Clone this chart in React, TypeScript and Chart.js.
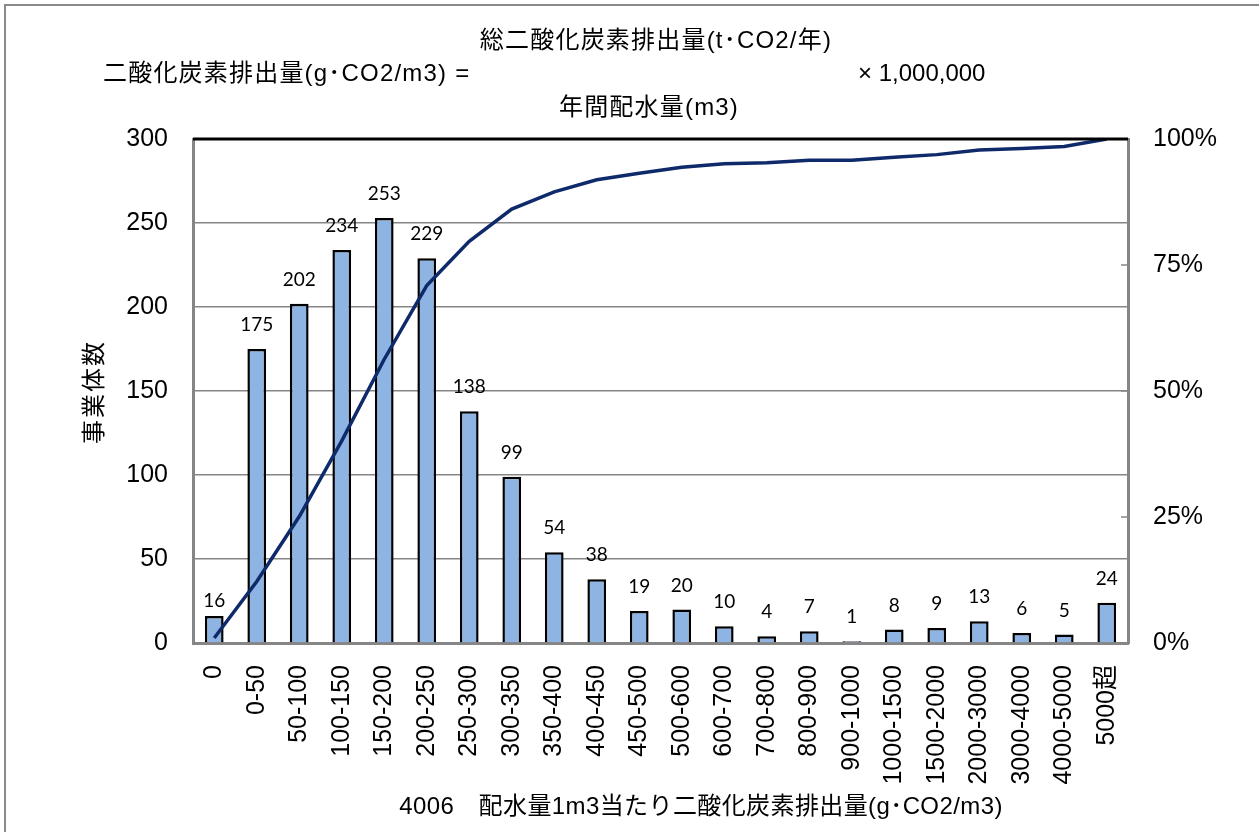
import React, { useEffect, useRef } from "react";
import { Chart, registerables } from "chart.js";
Chart.register(...registerables);

const categories = [
  "0", "0-50", "50-100", "100-150", "150-200", "200-250", "250-300", "300-350",
  "350-400", "400-450", "450-500", "500-600", "600-700", "700-800", "800-900",
  "900-1000", "1000-1500", "1500-2000", "2000-3000", "3000-4000", "4000-5000", "5000超",
];
const counts = [16, 175, 202, 234, 253, 229, 138, 99, 54, 38, 19, 20, 10, 4, 7, 1, 8, 9, 13, 6, 5, 24];
const cumulativePct = [
  1.0, 12.2, 25.1, 40.1, 56.3, 70.9, 79.7, 86.1, 89.5, 91.9, 93.2, 94.4, 95.1, 95.3,
  95.8, 95.8, 96.4, 96.9, 97.8, 98.1, 98.5, 100,
];
const leftAxis = { min: 0, max: 300, step: 50 };
const rightAxis = { min: 0, max: 100, step: 25 };

const titleTop = "総二酸化炭素排出量(t･CO2/年)";
const titleLeft = "二酸化炭素排出量(g･CO2/m3) =";
const titleFactor = "× 1,000,000";
const titleBottom = "年間配水量(m3)";
const yTitle = "事業体数";
const xTitle = "4006　配水量1m3当たり二酸化炭素排出量(g･CO2/m3)";

const FONT = "'Liberation Sans', 'Noto Sans CJK JP', sans-serif";
const GRID = "#868686";

const extras = {
  id: "extras",
  afterDatasetsDraw(chart: any) {
    const ctx = chart.ctx;
    const meta = chart.getDatasetMeta(1);
    ctx.save();
    ctx.font = "19px Lato, 'Open Sans', sans-serif";
    ctx.fillStyle = "#000";
    ctx.textAlign = "center";
    ctx.textBaseline = "middle";
    meta.data.forEach((el: any, i: number) => {
      const off = i === 0 ? 15 : 24;
      ctx.fillText(String(counts[i]), el.x, el.y - off);
    });
    ctx.restore();
  },
  afterDraw(chart: any) {
    const ctx = chart.ctx;
    const area = chart.chartArea;
    const y1 = chart.scales.y1;
    ctx.save();
    ctx.strokeStyle = GRID;
    ctx.lineWidth = 1.5;
    for (let v = rightAxis.min; v <= rightAxis.max; v += rightAxis.step) {
      const py = y1.getPixelForValue(v);
      ctx.beginPath();
      ctx.moveTo(area.right - 7, py);
      ctx.lineTo(area.right, py);
      ctx.stroke();
    }
    ctx.strokeStyle = "#000";
    ctx.lineWidth = 3;
    ctx.beginPath();
    ctx.moveTo(area.left, area.top);
    ctx.lineTo(area.right, area.top);
    ctx.stroke();
    ctx.restore();
  },
};

export default function App() {
  const ref = useRef<HTMLCanvasElement>(null);
  useEffect(() => {
    const chart = new Chart(ref.current as HTMLCanvasElement, {
      type: "bar",
      data: {
        labels: categories,
        datasets: [
          {
            type: "line",
            data: cumulativePct,
            yAxisID: "y1",
            borderColor: "#0E2A6B",
            borderWidth: 3.5,
            pointRadius: 0,
            tension: 0,
            order: 0,
          } as any,
          {
            type: "bar",
            data: counts,
            yAxisID: "y",
            backgroundColor: "#8DB4E2",
            borderColor: "#000",
            borderWidth: 2.5,
            barPercentage: 0.44,
            categoryPercentage: 1,
            order: 1,
          } as any,
        ],
      },
      options: {
        animation: false,
        responsive: false,
        maintainAspectRatio: false,
        layout: { padding: { top: 139, left: 0, right: 0, bottom: 0 } },
        plugins: { legend: { display: false }, tooltip: { enabled: false }, title: { display: false } },
        scales: {
          x: {
            offset: true,
            grid: { display: false, drawTicks: false },
            border: { display: true, color: GRID, width: 3 },
            ticks: {
              font: { family: FONT, size: 25 },
              color: "#000",
              minRotation: 90,
              maxRotation: 90,
              autoSkip: false,
              padding: 22,
            },
            afterFit(scale: any) {
              scale.height = 189;
            },
          },
          y: {
            position: "left",
            min: leftAxis.min,
            max: leftAxis.max,
            ticks: {
              stepSize: leftAxis.step,
              font: { family: FONT, size: 25 },
              color: "#000",
              padding: 25,
            },
            grid: { color: GRID, lineWidth: 1.5, drawTicks: false },
            border: { display: true, color: GRID, width: 3 },
            afterFit(scale: any) {
              scale.width = 193;
            },
          },
          y1: {
            position: "right",
            min: rightAxis.min,
            max: rightAxis.max,
            ticks: {
              stepSize: rightAxis.step,
              font: { family: FONT, size: 25 },
              color: "#000",
              padding: 25,
              callback: (v: any) => v + "%",
            },
            grid: { drawOnChartArea: false, drawTicks: false },
            border: { display: true, color: GRID, width: 3 },
            afterFit(scale: any) {
              scale.width = 131;
            },
          },
        },
      },
      plugins: [extras],
    });
    return () => chart.destroy();
  }, []);

  const txt: React.CSSProperties = {
    position: "absolute",
    fontFamily: FONT,
    fontSize: 24,
    lineHeight: "24px",
    color: "#000",
    whiteSpace: "nowrap",
    letterSpacing: "1.2px",
  };

  return (
    <div style={{ position: "fixed", left: 0, top: 0, width: 1259, height: 832, background: "#fff", overflow: "hidden" }}>
      <div style={{ position: "absolute", left: 4, top: 4, width: 1300, height: 900, border: "2px solid #8a8a8a" }} />
      <canvas ref={ref} width={1259} height={832} style={{ position: "absolute", left: 0, top: 0 }} />
      <div style={{ ...txt, left: 656, top: 40, transform: "translate(-50%,-50%)" }}>{titleTop}</div>
      <div style={{ ...txt, left: 103, top: 73, transform: "translate(0,-50%)" }}>{titleLeft}</div>
      <div style={{ ...txt, left: 858, top: 73, transform: "translate(0,-50%)", letterSpacing: 0 }}>{titleFactor}</div>
      <div style={{ ...txt, left: 649, top: 107, transform: "translate(-50%,-50%)" }}>{titleBottom}</div>
      <div style={{ ...txt, left: 94, top: 392, transform: "translate(-50%,-50%) rotate(-90deg)", letterSpacing: "2px" }}>{yTitle}</div>
      <div style={{ ...txt, left: 701, top: 806, transform: "translate(-50%,-50%)", letterSpacing: "0.4px" }}>{xTitle}</div>
    </div>
  );
}
